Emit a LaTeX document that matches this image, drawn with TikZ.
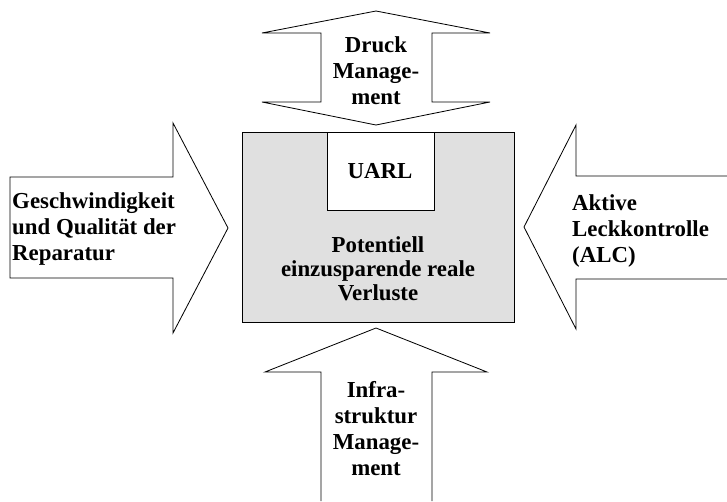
\documentclass[tikz,border=0pt]{standalone}
\usepackage{fontspec}
\setmainfont{Liberation Serif}
\usepackage{tikz}

\begin{document}
\begin{tikzpicture}[
    x=0.03cm, y=-0.03cm,
    font=\bfseries\fontsize{19.5}{22.2}\selectfont,
    blockarrow/.style={draw, line width=0.7pt, fill=white, line join=miter},
    lossbox/.style={draw, line width=0.7pt, fill=black!12},
    boxtext/.style={inner sep=0pt, align=center},
    sidetext/.style={inner sep=0pt, align=left},
  ]
    \useasboundingbox (0,0) rectangle (727,501);

    % block arrows
    \draw[blockarrow] (376,11) -- (490,33) -- (432,33) -- (432,102) -- (490,102) -- (376,125)
        -- (262,102) -- (321,102) -- (321,33) -- (262,33) -- cycle;
    \draw[blockarrow] (321,501) -- (321,372) -- (265,372) -- (376,328) -- (487,372) -- (432,372) -- (432,501);
    \draw[blockarrow] (10,177) -- (173,177) -- (173,123) -- (228,228) -- (173,333) -- (173,278) -- (10,278) -- cycle;
    \draw[blockarrow] (727,176) -- (576,176) -- (576,125) -- (524,227) -- (576,329) -- (576,279) -- (727,279);

    % central box
    \draw[lossbox] (242,132) rectangle (514,322);
    \draw[blockarrow] (327,132) rectangle (434,210);

    \node[boxtext] (uarl)     at (380,171) {UARL};
    \node[boxtext, font=\bfseries\fontsize{19.5}{20.6}\selectfont] (verluste) at (378,269) {Potentiell\\einzusparende reale\\Verluste};
    \node[boxtext] (druck)    at (376,71)  {Druck\\Manage-\\ment};
    \node[boxtext] (infra)    at (376,429) {Infra-\\struktur\\Manage-\\ment};
    \node[sidetext, anchor=west] (reparatur) at (12,229) {Geschwindigkeit\\und Qualität der\\Reparatur};
    \node[sidetext, anchor=west] (alc)       at (572,231) {Aktive\\Leckkontrolle\\(ALC)};
  \end{tikzpicture}
\end{document}
